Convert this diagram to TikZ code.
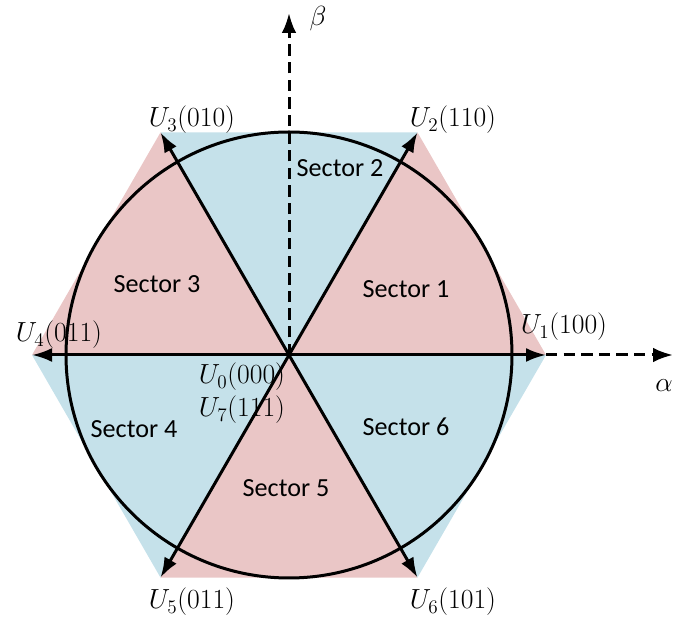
\documentclass[tikz,border=0pt]{standalone}
\usepackage[no-math]{fontspec}
\setmainfont{Carlito}
\usetikzlibrary{arrows.meta,calc}
\definecolor{secpink}{RGB}{234,198,198}
\definecolor{secblue}{RGB}{197,225,234}
\begin{document}
\begin{tikzpicture}[x=0.75pt,y=0.75pt,
  ln/.style={line width=2.25pt,line cap=butt},
  vec/.style={ln,-{Latex[length=15pt,width=10.5pt]}},
  axis/.style={ln,dash pattern=on 8.6pt off 4.6pt,-{Latex[length=15pt,width=11pt]}},
  sectxt/.style={font=\fontsize{19.6}{23}\selectfont,inner sep=0pt},
  ulab/.style={font=\fontsize{21}{24}\selectfont,inner sep=0pt}]
\useasboundingbox (0,0) rectangle (674,617);
\coordinate (O) at (289,262);
\foreach \k in {0,...,5}{\coordinate (V\k) at ($(O)+(\k*60:257)$);}
% sector fills
\fill[secpink] (O) -- (V0) -- (V1) -- cycle;
\fill[secblue] (O) -- (V1) -- (V2) -- cycle;
\fill[secpink] (O) -- (V2) -- (V3) -- cycle;
\fill[secblue] (O) -- (V3) -- (V4) -- cycle;
\fill[secpink] (O) -- (V4) -- (V5) -- cycle;
\fill[secblue] (O) -- (V5) -- (V0) -- cycle;
% circle
\draw[ln] (O) circle (223);
% axes
\coordinate (Btip) at (289,604);
\coordinate (Atip) at (673,262);
\draw[axis] (O) -- (Btip);
\draw[axis] (V0) -- (Atip);
% vectors
\foreach \k in {0,...,5}{\draw[vec] (O) -- (V\k);}
% axis labels
\node[ulab] (beta) at (318,598) {$\beta$};
\node[ulab] (alpha) at (664,231) {$\alpha$};
% vector labels
\node[ulab] (u1) at (564,290) {$U_1(100)$};
\node[ulab] (u2) at (453,497) {$U_2(110)$};
\node[ulab] (u3) at (192,497) {$U_3(010)$};
\node[ulab] (u4) at (59,282) {$U_4(011)$};
\node[ulab] (u5) at (192,15) {$U_5(011)$};
\node[ulab] (u6) at (453,15) {$U_6(101)$};
\node[ulab] (u0) at (242,240) {$U_0(000)$};
\node[ulab] (u7) at (242,207) {$U_7(111)$};
% sector labels
\node[sectxt] (s1) at (406,328) {Sector 1};
\node[sectxt] (s2) at (340,449) {Sector 2};
\node[sectxt] (s3) at (157,333) {Sector 3};
\node[sectxt] (s4) at (134,188) {Sector 4};
\node[sectxt] (s5) at (286,129) {Sector 5};
\node[sectxt] (s6) at (406,190) {Sector 6};
\end{tikzpicture}
\end{document}
